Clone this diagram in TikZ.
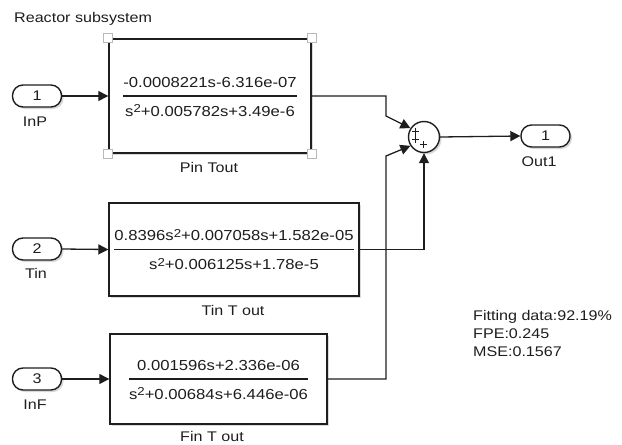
\documentclass[tikz,border=0pt]{standalone}
\usepackage{fontspec}
\setmainfont{Liberation Sans}[FakeStretch=1.15]
\usetikzlibrary{arrows.meta,shadows}
\newcommand\ssq{s\raisebox{0.45ex}{\fontsize{11.5}{11.5}\selectfont 2}}
\setlength{\arrayrulewidth}{1.2pt}
\renewcommand\arraystretch{1.55}
\definecolor{ink}{HTML}{1E1E1E}
\begin{document}
\begin{tikzpicture}[x=1pt,y=-1pt,
  shade1/.style={drop shadow={opacity=0.3,shadow xshift=2pt,shadow yshift=-2pt}},
  blk/.style={draw=ink, line width=1.4pt, fill=white, shade1, rectangle, inner sep=0pt,
    font=\fontsize{14.5}{18}\selectfont, text=ink},
  port/.style={draw=ink, line width=1.4pt, fill=white, shade1, rectangle, rounded corners=10.5pt,
    minimum width=49pt, minimum height=22pt, inner sep=0pt, font=\fontsize{14}{16}\selectfont, text=ink},
  sumblk/.style={draw=ink, line width=1.4pt, fill=white, shade1, circle, minimum size=31pt, inner sep=0pt},
  handle/.style={draw=gray!55, line width=1pt, fill=white, rectangle, minimum size=9pt, inner sep=0pt},
  wire/.style={line width=1.3pt, draw=ink},
  arr/.style={wire, -{Triangle[length=10pt,width=10pt]}},
  lbl/.style={font=\fontsize{14}{16}\selectfont, text=ink, inner sep=0pt, anchor=base},
  pls/.style={line width=1.2pt, draw=ink}
]
\useasboundingbox (0,0) rectangle (622,445);

% title
\node[lbl, anchor=base west] (title) at (14,22.7) {Reactor subsystem};

% transfer function blocks
\node[blk, minimum width=202pt, minimum height=114pt] (b1) at (210,96)
  {\begin{tabular}{@{}c@{}}-0.0008221s-6.316e-07\\\hline \ssq+0.005782s+3.49e-6\end{tabular}};
\node[blk, minimum width=250pt, minimum height=93pt] (b2) at (234,249.5)
  {\begin{tabular}{@{}c@{}}0.8396\ssq+0.007058s+1.582e-05\\\hline \ssq+0.006125s+1.78e-5\end{tabular}};
\node[blk, minimum width=217pt, minimum height=90pt] (b3) at (218.5,379)
  {\begin{tabular}{@{}c@{}}0.001596s+2.336e-06\\\hline \ssq+0.00684s+6.446e-06\end{tabular}};

% selection handles on block 1
\foreach \a/\i in {north west/1, north east/2, south west/3, south east/4}
  \node[handle] (h\i) at (b1.\a) {};

% block labels
\node[lbl] (l1) at (209,172.5) {Pin Tout};
\node[lbl] (l2) at (233,315) {Tin T out};
\node[lbl] (l3) at (212,441.5) {Fin T out};

% inports
\node[port] (in1) at (37,96) {1};
\node[port] (in2) at (37,249) {2};
\node[port] (in3) at (37,379) {3};
\node[lbl] (n1) at (35,126) {InP};
\node[lbl] (n2) at (36,278) {Tin};
\node[lbl] (n3) at (35,409) {InF};

% sum
\node[sumblk] (sum) at (424,137) {};
\draw[pls] (412.2,131.5) -- (419.2,131.5) (415.7,127.5) -- (415.7,135.5);
\draw[pls] (412.2,139.3) -- (419.2,139.3) (415.7,135.3) -- (415.7,143.3);
\draw[pls] (419.8,144.5) -- (426.8,144.5) (423.3,141) -- (423.3,148);

% outport
\node[port] (out1) at (545.5,136) {1};
\node[lbl] (n4) at (539,166) {Out1};

% fit info
\node[lbl, anchor=base west] (f1) at (473,320.7) {Fitting data:92.19\%};
\node[lbl, anchor=base west] (f2) at (473,338.7) {FPE:0.245};
\node[lbl, anchor=base west] (f3) at (473,356.7) {MSE:0.1567};

% bend points
\coordinate (k1) at (386,96);
\coordinate (k2) at (386,116);
\coordinate (k3) at (386,379);
\coordinate (k4) at (386,156);

% connectors
\draw[arr] (in1.east) -- (b1.west);
\draw[arr] (in2.east) -- (b2.west);
\draw[arr] (in3.east) -- (b3.west);
\draw[arr] (b1.east) -- (k1) -- (k2) -- (sum.147);
\draw[arr] (b2.east) -| (sum.south);
\draw[arr] (b3.east) -- (k3) -- (k4) -- (sum.213);
\draw[arr] (sum.east) -- (out1.west);
\end{tikzpicture}
\end{document}
